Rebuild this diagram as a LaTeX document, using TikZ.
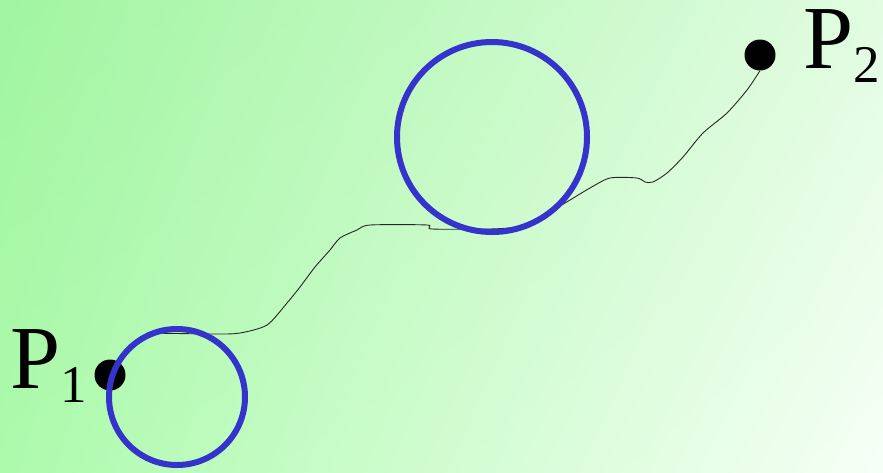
\documentclass[tikz,border=0pt]{standalone}
\usepackage{fontspec}
\setmainfont{Liberation Serif}
\usetikzlibrary{shadings}
\definecolor{bgA}{RGB}{160,245,160}
\definecolor{bgB}{RGB}{225,252,225}
\definecolor{bgC}{RGB}{172,250,172}
\definecolor{bgD}{RGB}{246,255,246}
\definecolor{ringblue}{RGB}{52,52,204}
\tikzset{
	dot/.style={circle,fill=black,inner sep=0pt,minimum size=31pt},
	ring/.style={draw=ringblue,line width=6pt},
	lbl/.style={inner sep=0pt,anchor=base west,text height=62pt,font=\fontsize{90}{90}\selectfont},
}
\newcommand{\ptname}[1]{P\raisebox{-14pt}{\fontsize{53}{53}\selectfont #1}}
\begin{document}
\begin{tikzpicture}[x=1pt,y=-1pt]
	\useasboundingbox (0,0) rectangle (883,472);
	\shade[upper left=bgA,upper right=bgB,lower left=bgC,lower right=bgD] (0,0) rectangle (883,472);
	\node[dot] (p1) at (110,375) {};
	\node[dot] (p2) at (760,55) {};
	\node[lbl] (p1lbl) at (10.5,388) {\ptname{1}};
	\node[lbl] (p2lbl) at (803.5,68) {\ptname{2}};
	\coordinate (s) at (147,333);
	\draw[line width=0.9pt,black!85] plot[smooth,tension=0.45] coordinates {(s) (215,334) (240,333) (267,325) (287,303) (300,287) (315,267) (330,250) (340,238) (357,230) (370,225) (427,225) (432,229) (490,229) (517,227) (537,221) (550,212) (570,200) (590,188) (610,178) (637,178) (645,182) (653,182) (667,173) (683,157) (703,133) (727,113) (747,90) (p2.south)};
	\draw[ring] (177,397) circle[radius=68];
	\draw[ring] (492,137) circle[radius=95];
\end{tikzpicture}
\end{document}
